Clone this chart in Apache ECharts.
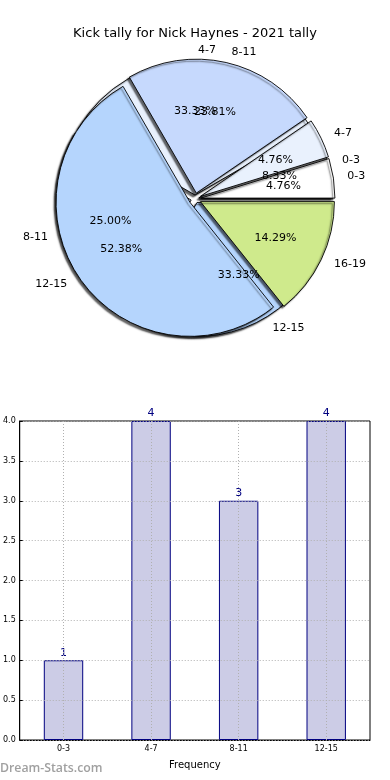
<!DOCTYPE html>
<html>
<head>
<meta charset="utf-8">
<script src="https://cdn.jsdelivr.net/npm/echarts@6/dist/echarts.min.js"></script>
<style>
html,body{margin:0;padding:0;background:#fff;}
#main{width:390px;height:780px;}
</style>
</head>
<body>
<div id="main"></div>
<script>
// ---- data ----
const titleText = 'Kick tally for Nick Haynes - 2021 tally';
const pieACategories = ['0-3', '4-7', '8-11', '12-15'];
const pieAValues = [1, 4, 3, 4];
const pieBCategories = ['0-3', '4-7', '8-11', '12-15', '16-19'];
const pieBValues = [1, 1, 5, 11, 3];
const barCategories = ['0-3', '4-7', '8-11', '12-15'];
const barValues = [1, 4, 3, 4];
const yTicks = [0, 0.5, 1, 1.5, 2, 2.5, 3, 3.5, 4];
const xAxisName = 'Frequency';
const watermark = 'Dream-Stats.com';

// ---- styles ----
const palette = ['#ffffff', '#e9f1fd', '#c6d9fd', '#b5d5fd', '#cfea8c'];
const FONT = 'DejaVu Sans';
const CX = 195, CY = 199, R = 134;

function pieData(names, values, withStyle) {
  return names.map((n, i) => ({
    name: n,
    value: values[i],
    selected: true,
    itemStyle: withStyle ? { color: palette[i] } : { color: 'rgba(0,0,0,0)', borderWidth: 0 }
  }));
}

const sectorStyle = {
  borderColor: '#000',
  borderWidth: 0.9,
  shadowColor: 'rgba(0,0,0,0.6)',
  shadowBlur: 1.5,
  shadowOffsetX: -2,
  shadowOffsetY: 2
};

function shapePie(names, values, offset, z) {
  return {
    type: 'pie',
    z: z,
    center: [CX, CY],
    radius: [0, R],
    startAngle: 0,
    clockwise: false,
    selectedMode: 'multiple',
    selectedOffset: offset,
    avoidLabelOverlap: false,
    silent: true,
    animation: false,
    emphasis: { disabled: true },
    itemStyle: sectorStyle,
    select: { itemStyle: sectorStyle },
    label: {
      show: true,
      position: 'outside',
      fontFamily: FONT,
      fontSize: 11,
      color: '#000',
      distanceToLabelLine: 3
    },
    labelLine: { show: false, length: 11, length2: 0 },
    labelLayout: { hideOverlap: false },
    data: pieData(names, values, true)
  };
}

function pctPie(names, values, offset, z) {
  const total = values.reduce((a, b) => a + b, 0);
  return {
    type: 'pie',
    z: z,
    center: [CX, CY],
    radius: [0, R * 1.2],
    startAngle: 0,
    clockwise: false,
    selectedMode: 'multiple',
    selectedOffset: offset,
    avoidLabelOverlap: false,
    silent: true,
    animation: false,
    emphasis: { disabled: true },
    itemStyle: { color: 'rgba(0,0,0,0)', borderWidth: 0 },
    select: { itemStyle: { color: 'rgba(0,0,0,0)', borderWidth: 0 } },
    label: {
      show: true,
      position: 'inside',
      fontFamily: FONT,
      fontSize: 11,
      color: '#000',
      formatter: p => (p.value / total * 100).toFixed(2) + '%'
    },
    labelLine: { show: false },
    labelLayout: { hideOverlap: false },
    data: pieData(names, values, false)
  };
}

const chart = echarts.init(document.getElementById('main'), null, { renderer: 'canvas' });
chart.setOption({
  backgroundColor: '#fff',
  animation: false,
  title: {
    text: titleText,
    left: 'center',
    top: 22,
    textStyle: { fontFamily: FONT, fontSize: 13, fontWeight: 'normal', color: '#000' }
  },
  grid: {
    left: 19.5, right: 20, top: 421, bottom: 40,
    show: true, borderColor: '#000', borderWidth: 1, backgroundColor: 'transparent'
  },
  xAxis: {
    type: 'category',
    data: barCategories,
    name: xAxisName,
    nameLocation: 'middle',
    nameGap: 20,
    nameTextStyle: { fontFamily: FONT, fontSize: 10, color: '#000' },
    axisLine: { lineStyle: { color: '#000' } },
    axisTick: { alignWithLabel: true, inside: true, length: 3, lineStyle: { color: '#000' } },
    axisLabel: { fontFamily: FONT, fontSize: 8, color: '#000', margin: 5 },
    splitLine: { show: false }
  },
  yAxis: {
    type: 'value',
    min: yTicks[0],
    max: yTicks[yTicks.length - 1],
    interval: yTicks[1] - yTicks[0],
    z: 5,
    axisLine: { show: true, lineStyle: { color: '#000' } },
    axisTick: { show: true, inside: true, length: 3, lineStyle: { color: '#000' } },
    axisLabel: { fontFamily: FONT, fontSize: 8, color: '#000', margin: 4, formatter: v => v.toFixed(1) },
    splitLine: { show: true, lineStyle: { color: '#b0b0b0', type: [1, 2], width: 1 } }
  },
  graphic: [{
    type: 'text',
    left: 0,
    top: 762,
    style: { text: watermark, fontFamily: 'Open Sans', fontSize: 12.3, fontWeight: 600, fill: '#a0a0a0' }
  }],
  series: [
    shapePie(pieACategories, pieAValues, 4, 2),
    shapePie(pieBCategories, pieBValues, 6, 3),
    pctPie(pieACategories, pieAValues, 4, 4),
    pctPie(pieBCategories, pieBValues, 6, 4),
    {
      type: 'bar',
      z: 2,
      data: barValues,
      barWidth: '45%',
      silent: true,
      itemStyle: { color: '#ccccE6', borderColor: '#000080', borderWidth: 1 },
      label: { show: true, position: 'top', distance: 2, fontFamily: FONT, fontSize: 11, color: '#000080' },
      markLine: {
        silent: true,
        symbol: 'none',
        z: 6,
        label: { show: false },
        lineStyle: { color: '#b0b0b0', type: [1, 2], width: 1 },
        data: barCategories.map(c => ({ xAxis: c }))
      }
    }
  ]
});
</script>
</body>
</html>
